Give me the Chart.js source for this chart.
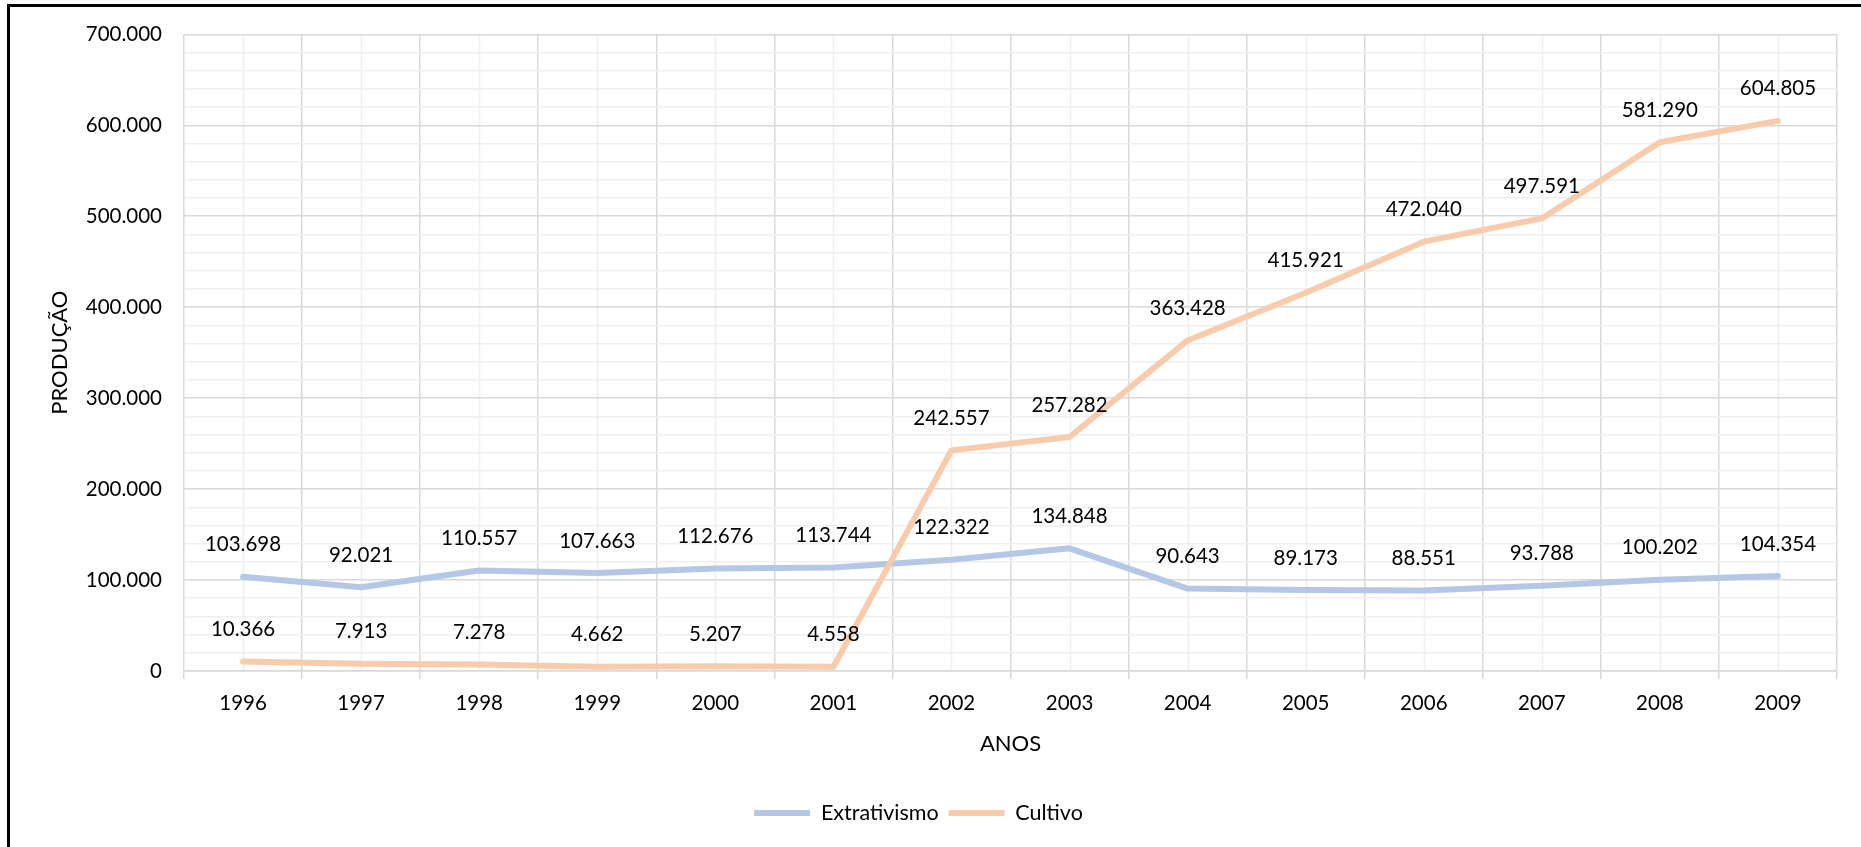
<!DOCTYPE html>
<html>
<head>
<meta charset="utf-8">
<script src="https://cdn.jsdelivr.net/npm/chart.js@4/dist/chart.umd.min.js"></script>
<style>
  html, body { margin: 0; padding: 0; background: #fff; overflow: hidden; }
  #wrap { position: relative; width: 1861px; height: 847px; }
  #c { position: absolute; left: 0; top: 0; }
  #frame { position: absolute; left: 7px; top: 4px; width: 1900px; height: 900px;
           border-left: 3px solid #000; border-top: 3px solid #000; pointer-events: none; }
</style>
</head>
<body>
<div id="wrap">
  <canvas id="c" width="1861" height="847"></canvas>
  <div id="frame"></div>
</div>
<script>
// Years on the category axis
const anos = ['1996', '1997', '1998', '1999', '2000', '2001', '2002',
              '2003', '2004', '2005', '2006', '2007', '2008', '2009'];

// Production per year
const extrativismo = [103698, 92021, 110557, 107663, 112676, 113744, 122322,
                      134848, 90643, 89173, 88551, 93788, 100202, 104354];
const cultivo = [10366, 7913, 7278, 4662, 5207, 4558, 242557,
                 257282, 363428, 415921, 472040, 497591, 581290, 604805];

// Value axis: 0 to 700.000, labelled every 100.000, minor lines every 20.000
const yMin = 0;
const yMax = 700000;
const yMinorStep = 20000;
const yMajorStep = 100000;

const FONT = 'Lato, "Open Sans", sans-serif';
const TEXT = '#000000';
const GRID_MAJOR = '#d9d9d9';
const GRID_MINOR = '#efefef';
const LINE_WIDTH = 6;

// 123456 -> "123.456"
function fmt(v) {
  return String(Math.round(v)).replace(/\B(?=(\d{3})+(?!\d))/g, '.');
}

// Font size that makes a sample string a given width
function sizeForWidth(sample, width) {
  const ctx = document.createElement('canvas').getContext('2d');
  ctx.font = '100px ' + FONT;
  const w = ctx.measureText(sample).width;
  return Math.round(2 * 100 * width / w) / 2;
}
const tickSize = sizeForWidth('700.000', 77);
const titleSize = sizeForWidth('PRODUÇÃO', 123);
const legendSize = sizeForWidth('Extrativismo', 118);
const titleLine = titleSize * 1.2;

// Vertical layout of the area under the plot
const CANVAS_H = 847;
const PLOT_BOTTOM = 671;
const LEGEND_CENTER = 813;
const X_TITLE_CENTER = 744;
const legendPad = 10;
const legendHeight = legendSize + 2 * legendPad;
const bottomPad = (CANVAS_H - LEGEND_CENTER) - legendPad - legendSize / 2;
const xAxisHeight = CANVAS_H - bottomPad - legendHeight - PLOT_BOTTOM;

// Light vertical lines through the middle of each year
const minorCategoryGrid = {
  id: 'minorCategoryGrid',
  beforeDraw(chart) {
    const { ctx, chartArea, scales } = chart;
    const x = scales.x;
    ctx.save();
    ctx.strokeStyle = GRID_MINOR;
    ctx.lineWidth = 1.5;
    for (let i = 0; i < anos.length; i++) {
      const px = Math.round(x.getPixelForValue(i)) + 0.5;
      ctx.beginPath();
      ctx.moveTo(px, chartArea.top);
      ctx.lineTo(px, chartArea.bottom);
      ctx.stroke();
    }
    ctx.restore();
  }
};

// Value labels above every point
const valueLabels = {
  id: 'valueLabels',
  afterDatasetsDraw(chart) {
    const { ctx } = chart;
    ctx.save();
    ctx.font = tickSize + 'px ' + FONT;
    ctx.fillStyle = TEXT;
    ctx.textAlign = 'center';
    ctx.textBaseline = 'middle';
    chart.data.datasets.forEach((ds, i) => {
      const meta = chart.getDatasetMeta(i);
      meta.data.forEach((pt, j) => {
        ctx.fillText(fmt(ds.data[j]), pt.x, pt.y - 32);
      });
    });
    ctx.restore();
  }
};

new Chart(document.getElementById('c'), {
  type: 'line',
  data: {
    labels: anos,
    datasets: [
      {
        label: 'Extrativismo',
        data: extrativismo,
        borderColor: '#b4c7e7',
        backgroundColor: '#b4c7e7',
        borderWidth: LINE_WIDTH,
        borderCapStyle: 'round',
        borderJoinStyle: 'round',
        pointRadius: 0,
        pointHoverRadius: 0,
        tension: 0,
        order: 1
      },
      {
        label: 'Cultivo',
        data: cultivo,
        borderColor: '#f8cbad',
        backgroundColor: '#f8cbad',
        borderWidth: LINE_WIDTH,
        borderCapStyle: 'round',
        borderJoinStyle: 'round',
        pointRadius: 0,
        pointHoverRadius: 0,
        tension: 0,
        order: 0
      }
    ]
  },
  options: {
    responsive: false,
    animation: false,
    devicePixelRatio: 1,
    layout: { padding: { left: 0, right: 24, top: 34, bottom: bottomPad } },
    plugins: {
      legend: {
        position: 'bottom',
        labels: {
          usePointStyle: true,
          pointStyle: 'line',
          pointStyleWidth: 56,
          padding: legendPad,
          color: TEXT,
          font: { family: FONT, size: legendSize },
          sort: (a, b) => a.datasetIndex - b.datasetIndex
        }
      },
      tooltip: { enabled: false },
      title: { display: false }
    },
    scales: {
      x: {
        type: 'category',
        offset: true,
        grid: {
          offset: true,
          color: GRID_MAJOR,
          lineWidth: 1.5,
          drawTicks: true,
          tickLength: 8
        },
        border: { display: true, color: GRID_MAJOR, width: 1.5 },
        ticks: {
          color: TEXT,
          font: { family: FONT, size: tickSize },
          padding: 12,
          maxRotation: 0,
          autoSkip: false
        },
        title: {
          display: true,
          text: 'ANOS',
          color: TEXT,
          font: { family: FONT, size: titleSize },
          padding: { top: 0, bottom: (PLOT_BOTTOM + xAxisHeight - X_TITLE_CENTER) - titleLine / 2 }
        },
        afterFit(scale) { scale.height = xAxisHeight; }
      },
      y: {
        min: yMin,
        max: yMax,
        grid: {
          drawTicks: false,
          color: (c) => (c.tick && c.tick.value % yMajorStep === 0) ? GRID_MAJOR : GRID_MINOR,
          lineWidth: 1.5
        },
        border: { display: false },
        ticks: {
          stepSize: yMinorStep,
          maxTicksLimit: 100,
          autoSkip: false,
          color: TEXT,
          font: { family: FONT, size: tickSize },
          padding: 22,
          callback: (v) => (v % yMajorStep === 0) ? fmt(v) : ''
        },
        title: {
          display: true,
          text: 'PRODUÇÃO',
          color: TEXT,
          font: { family: FONT, size: titleSize },
          padding: { top: 60 - titleLine / 2, bottom: 0 }
        },
        afterFit(scale) { scale.width = 184; }
      }
    }
  },
  plugins: [minorCategoryGrid, valueLabels]
});
</script>
</body>
</html>
